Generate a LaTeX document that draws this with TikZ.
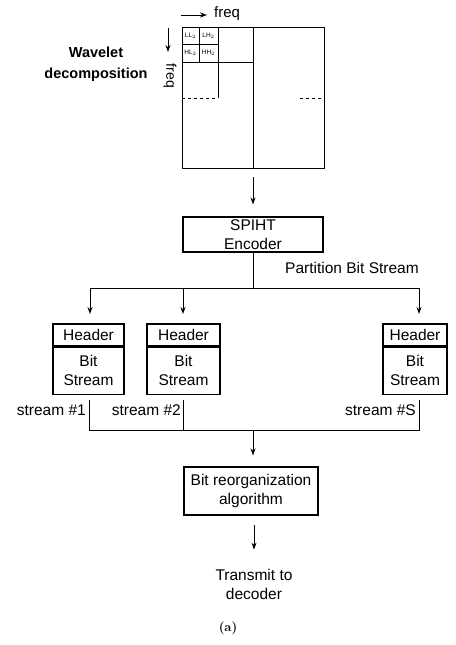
\documentclass[tikz,border=0pt]{standalone}
\usepackage{fontspec}
\setsansfont{Liberation Sans}
\usetikzlibrary{arrows.meta}
\begin{document}
\begin{tikzpicture}[x=1pt,y=-1pt,
  every node/.style={font=\sffamily\fontsize{15.5}{19}\selectfont, inner sep=0pt},
  line/.style={line width=0.9pt},
  arr/.style={line width=0.9pt,-{Stealth[length=7pt,width=5pt]}},
  boxstyle/.style={draw, line width=1.1pt, align=center},
  cell/.style={font=\sffamily\fontsize{6.5}{7}\selectfont}
]
\useasboundingbox (0,0) rectangle (455,645);

% wavelet decomposition square
\node[draw, line width=0.9pt, minimum width=142pt, minimum height=141pt] (wav) at (253,97.5) {};
\draw[line] (253,27) -- (253,168);
\draw[line, dashed] (182,98) -- (218,98);
\draw[line, dashed] (300,98) -- (324,98);
\draw[line] (218,27) -- (218,98);
\draw[line] (182,62) -- (253,62);
\draw[line] (199,27) -- (199,62);
\draw[line] (182,44) -- (218,44);
\node[cell] (ll) at (190.5,35.5) {LL$_2$};
\node[cell] (lh) at (208.5,35.5) {LH$_2$};
\node[cell] (hl) at (190.5,53) {HL$_2$};
\node[cell] (hh) at (208.5,53) {HH$_2$};

% axis labels
\coordinate (fx0) at (181,15);
\coordinate (fx1) at (207,15);
\draw[arr] (fx0) -- (fx1);
\node[anchor=west, font=\sffamily\fontsize{15}{18}\selectfont] (freqx) at (214,14) {freq};
\coordinate (fy0) at (168,28);
\coordinate (fy1) at (168,52);
\draw[arr] (fy0) -- (fy1);
\node[rotate=-90, font=\sffamily\fontsize{14}{17}\selectfont] (freqy) at (170,76) {freq};
\node[align=center, font=\sffamily\bfseries\fontsize{14.5}{21}\selectfont] (wavtxt) at (96,64) {Wavelet\\decomposition};

% SPIHT encoder
\node[boxstyle, minimum width=140pt, minimum height=35pt] (spiht) at (253,234.5) {SPIHT\\Encoder};
\draw[arr, shorten <=9pt, shorten >=12pt] (wav.south) -- (spiht.north);

% partition
\coordinate (split) at (253,288);
\coordinate (p1) at (90,288);
\coordinate (p2) at (183,288);
\coordinate (p3) at (419,288);
\draw[line] (spiht.south) -- (split);
\draw[line] (p1) -- (p3);
\node (parttxt) at (352,268) {Partition Bit Stream};

% stream boxes
\node[boxstyle, minimum width=71pt, minimum height=22pt] (h1) at (88.5,335) {Header};
\node[boxstyle, minimum width=71pt, minimum height=47pt, anchor=north] (b1) at (h1.south) {Bit\\Stream};
\node[boxstyle, minimum width=73pt, minimum height=22pt] (h2) at (183.5,335) {Header};
\node[boxstyle, minimum width=73pt, minimum height=47pt, anchor=north] (b2) at (h2.south) {Bit\\Stream};
\node[boxstyle, minimum width=64pt, minimum height=22pt] (h3) at (415,335) {Header};
\node[boxstyle, minimum width=64pt, minimum height=47pt, anchor=north] (b3) at (h3.south) {Bit\\Stream};

\coordinate (a1) at (90,324);
\coordinate (a2) at (183,324);
\coordinate (a3) at (419,324);
\draw[arr, shorten >=10pt] (p1) -- (a1);
\draw[arr, shorten >=10pt] (p2) -- (a2);
\draw[arr, shorten >=10pt] (p3) -- (a3);

% merge
\coordinate (s1) at (89,400);
\coordinate (s2) at (183,400);
\coordinate (s3) at (419,400);
\coordinate (m1) at (89,430);
\coordinate (m2) at (183,430);
\coordinate (m3) at (419,430);
\coordinate (mc) at (253,430);
\draw[line] (s1) -- (m1) -- (m3) -- (s3);
\draw[line] (s2) -- (m2);
\node[anchor=east] (st1) at (86,410) {stream \#1};
\node[anchor=east] (st2) at (181,410) {stream \#2};
\node[anchor=east] (st3) at (416,410) {stream \#S};

% reorganization
\node[boxstyle, minimum width=134pt, minimum height=48pt] (reorg) at (251,491) {Bit reorganization\\algorithm};
\draw[arr, shorten >=11pt] (mc) -- (mc |- reorg.north);

\node[align=center] (tx) at (254,584) {Transmit to\\decoder};
\coordinate (t0) at (254,525);
\draw[arr, shorten >=19pt] (t0) -- (t0 |- tx.north);

\node[font=\rmfamily\bfseries\fontsize{13}{15}\selectfont] (cap) at (228,628) {(a)};
\end{tikzpicture}
\end{document}
